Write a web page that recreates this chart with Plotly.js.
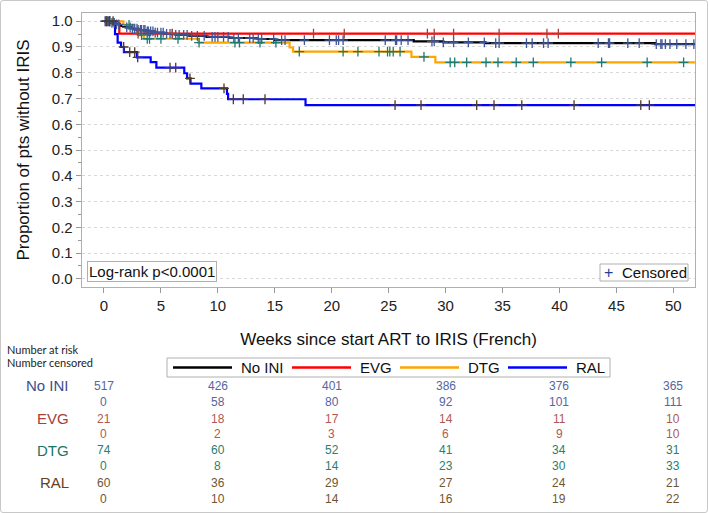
<!DOCTYPE html>
<html>
<head>
<meta charset="utf-8">
<script src="https://cdn.plot.ly/plotly-3.0.1.min.js"></script>
<style>
  html, body { margin: 0; padding: 0; background: #fff; }
  #wrap { position: relative; width: 708px; height: 513px; }
  #chart { position: absolute; left: 0; top: 0; width: 708px; height: 513px; }
  #frame { position: absolute; left: 0; top: 0; width: 708px; height: 513px; box-sizing: border-box;
           border: 1px solid #c8c8c8; border-radius: 3px; pointer-events: none; }
</style>
</head>
<body>
<div id="wrap"><div id="chart"></div><div id="frame"></div></div>
<script>
// ---------- data ----------
var groups = ['No INI', 'EVG', 'DTG', 'RAL'];
var lineColors = ['#000000', '#ff0000', '#ffa500', '#0000ff'];
var censorColors = ['#3f5597', '#a0403a', '#1f7a6e', '#4d3b26'];
var labelColors = ['#3d4d8d', '#a5403a', '#1a7566', '#5f4322'];
var numberColors = ['#5566a0', '#b05a50', '#2a8070', '#6f5535'];

// KM step curves: event times (weeks) and survival after each step
var noIniTime = [0, 0.6, 1.0, 1.4, 1.9, 2.5, 3.0, 3.7, 4.4, 5.3, 6.3, 7.5, 9.0, 11.0, 13.5, 15.0, 27.2, 29.8, 33.5, 48.4, 51.9];
var noIniSurv = [1.0, 0.994, 0.988, 0.982, 0.976, 0.971, 0.966, 0.961, 0.956, 0.951, 0.947, 0.943, 0.939, 0.935, 0.931, 0.927, 0.922, 0.918, 0.915, 0.911, 0.911];
var evgTime = [0, 1.35, 51.9];
var evgSurv = [1.0, 0.952, 0.952];
var dtgTime = [0, 1.7, 2.6, 2.9, 3.15, 3.5, 8.3, 16.3, 16.6, 27.0, 29.1, 51.9];
var dtgSurv = [1.0, 0.986, 0.973, 0.959, 0.946, 0.932, 0.917, 0.898, 0.882, 0.862, 0.840, 0.840];
var ralTime = [0, 0.97, 1.2, 1.5, 1.75, 2.9, 4.1, 4.6, 7.05, 7.3, 7.6, 8.55, 10.8, 10.9, 17.7, 51.9];
var ralSurv = [1.0, 0.95, 0.917, 0.900, 0.880, 0.860, 0.841, 0.820, 0.798, 0.778, 0.758, 0.739, 0.718, 0.697, 0.674, 0.674];

// censoring times (weeks)
var noIniCens = [0.1, 0.2, 0.3, 0.4, 0.5, 0.7, 0.9, 1.1, 1.3, 2.0, 2.3, 2.5, 2.7, 2.9, 3.0, 3.2, 3.3, 3.5, 3.6, 3.8, 3.9,
  4.1, 4.3, 4.5, 4.7, 5.0, 5.2, 5.5, 5.8, 6.0, 6.3, 6.6, 7.0, 7.3, 7.7, 8.2, 8.8, 9.5, 9.75, 10.0, 10.5, 10.9, 11.4,
  11.8, 12.8, 13.1, 13.55, 13.85, 14.9, 15.6, 15.9, 17.6, 19.8, 20.4, 20.6, 21.0, 24.7, 25.6, 25.7, 26.1, 26.7, 28.8,
  29.0, 29.8, 30.7, 32.0, 33.4, 34.4, 34.7, 37.1, 37.6, 38.6, 39.0, 43.4, 44.3, 44.4, 46.0, 47.0, 48.5, 48.9, 49.0,
  49.3, 49.7, 50.3, 51.1, 51.8];
var evgCens = [3.0, 6.0, 18.4, 21.1, 28.4, 29.0, 30.7, 34.7, 38.9, 39.9];
var dtgCens = [0.5, 2.2, 3.3, 3.8, 4.0, 5.0, 6.5, 8.35, 11.5, 11.9, 13.7, 15.1, 17.15, 21.0, 22.3, 24.15, 24.9, 25.1,
  25.4, 26.0, 28.1, 30.4, 30.8, 31.85, 33.55, 34.6, 36.2, 37.7, 41.0, 43.7, 47.7, 50.9];
var ralCens = [0.2, 0.5, 0.8, 1.73, 2.26, 2.70, 2.96, 5.80, 6.30, 7.55, 10.54, 11.36, 12.23, 14.14, 25.56, 27.84,
  32.73, 34.25, 36.69, 41.28, 47.14, 47.89];

// risk table
var riskTimes = [0, 10, 20, 30, 40, 50];
var noIniAtRisk = [517, 426, 401, 386, 376, 365];
var noIniCensored = [0, 58, 80, 92, 101, 111];
var evgAtRisk = [21, 18, 17, 14, 11, 10];
var evgCensored = [0, 2, 3, 6, 9, 10];
var dtgAtRisk = [74, 60, 52, 41, 34, 31];
var dtgCensored = [0, 8, 14, 23, 30, 33];
var ralAtRisk = [60, 36, 29, 27, 24, 21];
var ralCensored = [0, 10, 14, 16, 19, 22];

var xTickVals = [0, 5, 10, 15, 20, 25, 30, 35, 40, 45, 50];
var yTickVals = [0, 0.1, 0.2, 0.3, 0.4, 0.5, 0.6, 0.7, 0.8, 0.9, 1.0];

// ---------- build ----------
var times = [noIniTime, evgTime, dtgTime, ralTime];
var survs = [noIniSurv, evgSurv, dtgSurv, ralSurv];
var cens = [noIniCens, evgCens, dtgCens, ralCens];
var atRisk = [noIniAtRisk, evgAtRisk, dtgAtRisk, ralAtRisk];
var censored = [noIniCensored, evgCensored, dtgCensored, ralCensored];

function survAt(t, s, x) {
  var v = s[0];
  for (var i = 0; i < t.length; i++) { if (t[i] <= x) v = s[i]; }
  return v;
}

var FONT = '"Liberation Sans", Arial, sans-serif';
var traces = [];
for (var g = 0; g < 4; g++) {
  traces.push({
    type: 'scatter', mode: 'lines', x: times[g], y: survs[g], name: groups[g],
    line: { color: lineColors[g], width: 2.2, shape: 'hv' },
    showlegend: false, hoverinfo: 'skip'
  });
}
for (var g2 = 0; g2 < 4; g2++) {
  (function (g) {
    traces.push({
      type: 'scatter', mode: 'markers', x: cens[g],
      y: cens[g].map(function (c) { return survAt(times[g], survs[g], c); }),
      name: 'Censored', showlegend: false,
      marker: { symbol: 'cross-thin', size: 7, color: censorColors[g], line: { color: censorColors[g], width: 1.3 } },
      hoverinfo: 'skip'
    });
  })(g2);
}

// pixel -> paper helpers (plot area x 82..695, y 13..287)
function py(p) { return (287 - p) / 274; }
function pxp(p) { return (p - 82) / 613; }
var rowPx = [385.7, 401.7, 418.7, 434.3, 450, 466, 482.7, 499];

var annotations = [];
var shapes = [];
for (var g3 = 0; g3 < 4; g3++) {
  annotations.push({
    xref: 'paper', yref: 'paper', x: pxp(70.5), y: py(rowPx[2 * g3]), xanchor: 'right', yanchor: 'middle',
    text: groups[g3], showarrow: false, font: { family: FONT, size: 15, color: labelColors[g3] }
  });
  for (var k = 0; k < riskTimes.length; k++) {
    annotations.push({
      xref: 'x', yref: 'paper', x: riskTimes[k], y: py(rowPx[2 * g3]), xanchor: 'center', yanchor: 'middle',
      text: String(atRisk[g3][k]), showarrow: false, font: { family: FONT, size: 12, color: numberColors[g3] }
    });
    annotations.push({
      xref: 'x', yref: 'paper', x: riskTimes[k], y: py(rowPx[2 * g3 + 1]), xanchor: 'center', yanchor: 'middle',
      text: String(censored[g3][k]), showarrow: false, font: { family: FONT, size: 12, color: numberColors[g3] }
    });
  }
}
annotations.push({
  xref: 'paper', yref: 'paper', x: pxp(5), y: py(349), xanchor: 'left', yanchor: 'middle',
  text: 'Number at risk', showarrow: false, font: { family: 'Lato, "Open Sans", sans-serif', size: 11, color: '#222' }
});
annotations.push({
  xref: 'paper', yref: 'paper', x: pxp(5), y: py(362.5), xanchor: 'left', yanchor: 'middle',
  text: 'Number censored', showarrow: false, font: { family: 'Lato, "Open Sans", sans-serif', size: 11, color: '#222' }
});
annotations.push({
  xref: 'paper', yref: 'paper', x: pxp(87), y: py(281.5), xanchor: 'left', yanchor: 'bottom',
  text: 'Log-rank p<0.0001', showarrow: false, bgcolor: '#fff', bordercolor: '#b0b0b0', borderwidth: 1, borderpad: 1,
  font: { family: FONT, size: 15, color: '#111' }
});

// group legend below the axis (box 167..610 x 358..377)
shapes.push({ type: 'rect', xref: 'paper', yref: 'paper', x0: pxp(167), x1: pxp(610), y0: py(377), y1: py(358),
  line: { color: '#b0b0b0', width: 1 }, fillcolor: '#fff' });
var legLineStart = [173, 292, 400, 508];
for (var g4 = 0; g4 < 4; g4++) {
  shapes.push({ type: 'line', xref: 'paper', yref: 'paper', x0: pxp(legLineStart[g4]), x1: pxp(legLineStart[g4] + 59),
    y0: py(367.5), y1: py(367.5), line: { color: lineColors[g4], width: 2.5 } });
  annotations.push({ xref: 'paper', yref: 'paper', x: pxp(legLineStart[g4] + 66), y: py(367.5), xanchor: 'left', yanchor: 'middle',
    text: groups[g4], showarrow: false, font: { family: FONT, size: 15, color: '#111' } });
}
// censored legend inside plot (box 600..688 x 264..281)
shapes.push({ type: 'rect', xref: 'paper', yref: 'paper', x0: pxp(600), x1: pxp(688), y0: py(281), y1: py(264),
  line: { color: '#b0b0b0', width: 1 }, fillcolor: '#fff', layer: 'above' });
annotations.push({ xref: 'paper', yref: 'paper', x: pxp(608.5), y: py(272.5), xanchor: 'center', yanchor: 'middle',
  text: '+', showarrow: false, font: { family: FONT, size: 16, color: '#1f3f9f' } });
annotations.push({ xref: 'paper', yref: 'paper', x: pxp(620), y: py(272.5), xanchor: 'left', yanchor: 'middle',
  text: 'Censored', showarrow: false, font: { family: FONT, size: 15, color: '#111' } });

var layout = {
  width: 708, height: 513,
  margin: { l: 82, r: 13, t: 13, b: 226, pad: 0 },
  paper_bgcolor: '#fff', plot_bgcolor: '#fff',
  font: { family: FONT, size: 15, color: '#222' },
  showlegend: false,
  xaxis: {
    range: [-1.93, 51.9], tickvals: xTickVals, ticks: 'outside', ticklen: 5, tickcolor: '#999', tickwidth: 1,
    showline: true, mirror: true, linecolor: '#b0b0b0', linewidth: 1.3, showgrid: false, zeroline: false,
    tickfont: { family: FONT, size: 15, color: '#222' },
    title: { text: 'Weeks since start ART to IRIS (French)', font: { family: FONT, size: 17, color: '#111' }, standoff: 19 }
  },
  yaxis: {
    range: [-0.032, 1.032], tickvals: yTickVals, tickformat: '.1f', ticks: 'outside', ticklen: 5, tickcolor: '#999',
    showline: true, mirror: true, linecolor: '#b0b0b0', linewidth: 1.3, zeroline: false,
    showgrid: true, gridcolor: '#d8d8d8', griddash: 'dot', gridwidth: 1,
    minor: { dtick: 0.05, tick0: 0, ticklen: 3, tickcolor: '#999', showgrid: false },
    tickfont: { family: FONT, size: 15, color: '#222' },
    title: { text: 'Proportion of pts without IRIS', font: { family: FONT, size: 17, color: '#111' }, standoff: 18 }
  },
  shapes: shapes,
  annotations: annotations
};

Plotly.newPlot('chart', traces, layout, { displayModeBar: false, staticPlot: true });
</script>
</body>
</html>
